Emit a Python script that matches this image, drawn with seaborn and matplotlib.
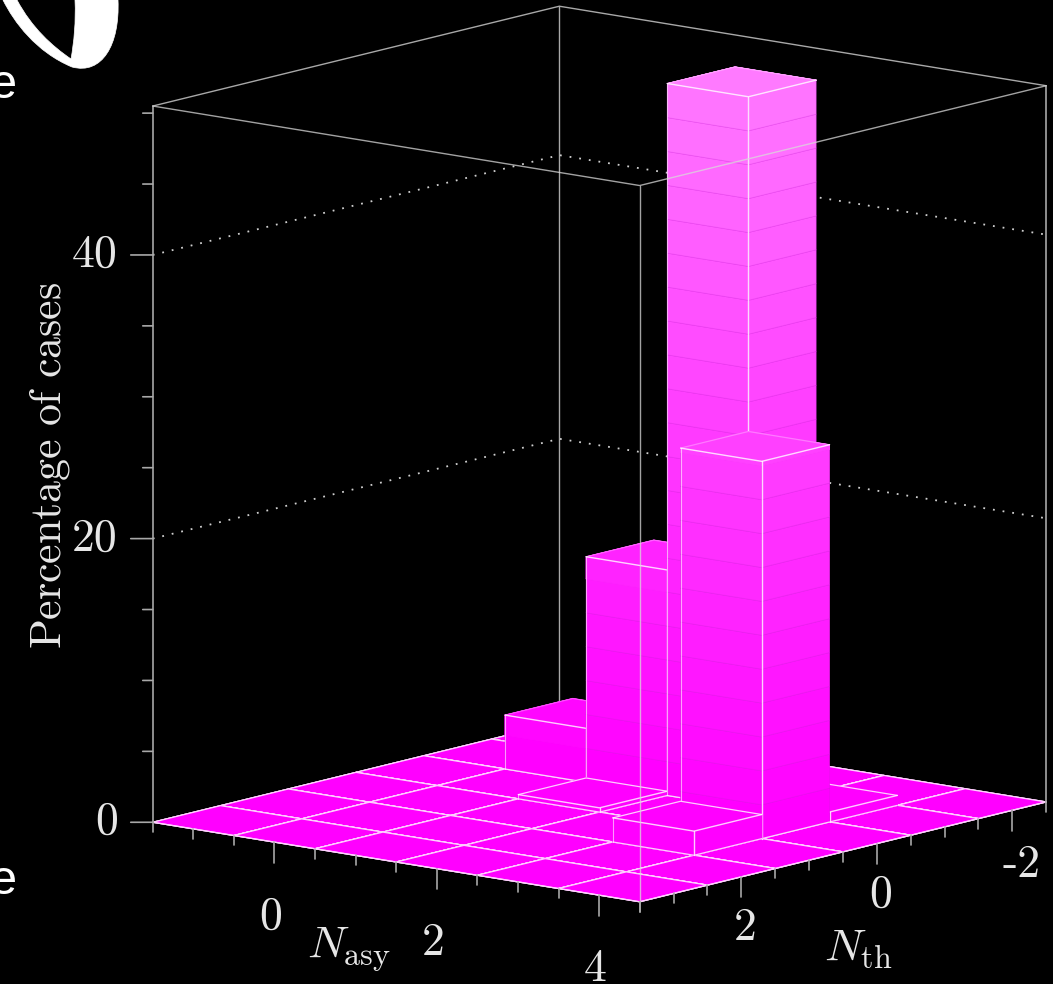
import numpy as np
import matplotlib
matplotlib.use("Agg")
import matplotlib.pyplot as plt
from matplotlib.patches import PathPatch
from matplotlib.path import Path
import seaborn as sns

# Share of cases per (N_asy, N_th) cell
nasy_values = [-1, 0, 1, 2, 3, 4]
nth_values = [-2, -1, 0, 1, 2, 3]
pct_nth_m2 = [0, 0, 0, 0, 0, 0]
pct_nth_m1 = [0, 3.8, 15.9, 50.2, 0.7, 0]
pct_nth_0 = [0, 0, 0.3, 0, 26.6, 0]
pct_nth_1 = [0, 0, 0, 0, 1.7, 0]
pct_nth_2 = [0, 0, 0, 0, 0, 0]
pct_nth_3 = [0, 0, 0, 0, 0, 0]
pct_rows = [pct_nth_m2, pct_nth_m1, pct_nth_0, pct_nth_1, pct_nth_2, pct_nth_3]

z_major = [0, 20, 40]
z_minor = [5, 10, 15, 25, 30, 35, 45, 50]
nasy_major = [0, 2, 4]
nth_major = [-2, 0, 2]
level_step = 2.39

sns.set_theme(style="dark", rc={
    "figure.facecolor": "black", "axes.facecolor": "black",
    "savefig.facecolor": "black", "text.color": "#e6e6e6",
    "mathtext.fontset": "cm", "axes.unicode_minus": False,
})

fig = plt.figure(figsize=(10.53, 9.84), dpi=100)
side = 1125
ax = fig.add_axes([21.8 / 1053, -47.7 / 984, side / 1053, side / 984],
                  projection="3d", proj_type="ortho")
ax.computed_zorder = False
ax.view_init(elev=11.55, azim=-50.8)
ax.set_xlim(-1.5, 4.5, view_margin=0)
ax.set_ylim(3.5, -2.5, view_margin=0)
ax.set_zlim(0, 50.5, view_margin=0)
ax.set_box_aspect((630, 645, 733), zoom=1)
ax.set_axis_off()

x0, x1 = -1.5, 4.5
y0, y1 = 3.5, -2.5
z1 = 50.5
box_col = "#a8a8a8"

# back of the box and dotted grid
ax.plot([x0, x0], [y1, y1], [0, z1], color=box_col, lw=1, zorder=1)
ax.plot([x0, x0, x1], [y0, y1, y1], [z1, z1, z1], color=box_col, lw=1, zorder=1)
for z in [20, 40]:
    ax.plot([x0, x0, x1], [y0, y1, y1], [z, z, z], color="#d0d0d0", lw=1.3,
            ls=(0, (1, 4.4)), zorder=1)

# floor
zo = 2
for ny in nth_values:
    for nx in nasy_values:
        ax.bar3d(nx - 0.5, ny - 0.5, 0, 1, 1, 0, color="#ff00ff", shade=False,
                 edgecolor="#ffd0ff", linewidth=0.9, zorder=zo)

palette = sns.blend_palette(["#ff00ff", "#ff80ff"], n_colors=23)


def level_color(z):
    return palette[min(int(z / level_step), len(palette) - 1)]


# bars, back to front
edge = (1, 1, 1, 0.8)
zo = 3
for i, nx in enumerate(nasy_values):
    for j, ny in enumerate(nth_values):
        h = pct_rows[j][i]
        if h <= 0:
            continue
        xl, xr = nx - 0.5, nx + 0.5
        yf, yb = ny + 0.5, ny - 0.5
        levels = list(np.arange(0, h, level_step)) + [h]
        for lo, hi in zip(levels[:-1], levels[1:]):
            if hi - lo < 1e-6:
                continue
            c = level_color(lo)
            ax.bar3d(xl, yb, lo, 1, 1, hi - lo, color=c, shade=False,
                     edgecolor=(0.80, 0.15, 0.85, 0.22) if hi < h else c,
                     linewidth=0.6, zorder=zo)
            zo += 1
        top = level_color(h)
        ax.bar3d(xl, yb, h, 1, 1, 0, color=top, shade=False, edgecolor=top,
                 linewidth=0.3, zorder=zo)
        zo += 1
        # visible outline, the far top edges only show on the low bars
        back_a = 0.8 if h < 2 else 0.3
        ax.plot([xl, xl, xr], [yf, yb, yb], [h, h, h], color=(1, 1, 1, back_a), lw=0.9, zorder=zo)
        ax.plot([xr, xr], [yf, yf], [0, h], color=edge, lw=1, zorder=zo)
        ax.plot([xl, xr, xr], [yf, yf, yb], [h, h, h], color=edge, lw=1, zorder=zo)
        ax.plot([xl, xl], [yf, yf], [0, h], color=(1, 1, 1, 0.6), lw=0.8, zorder=zo)
        ax.plot([xl, xr, xr], [yf, yf, yb], [0, 0, 0], color=edge, lw=0.9, zorder=zo)
        zo += 1

# front of the box, over the bars
top_z = zo + 1
front = (0.85, 0.85, 0.85, 0.75)
ax.plot([x0, x0], [y0, y0], [0, z1], color=box_col, lw=1.2, zorder=top_z)
ax.plot([x1, x1], [y0, y0], [0, z1], color=front, lw=1, zorder=top_z)
ax.plot([x1, x1], [y1, y1], [0, z1], color=box_col, lw=1.2, zorder=top_z)
ax.plot([x0, x1, x1], [y0, y0, y1], [z1, z1, z1], color=front, lw=1, zorder=top_z)

# z ticks point straight left on screen
left_dx, left_dy = -1 / 135.5, 0.8036 / 135.5
for z in z_major + z_minor:
    n = 22 if z in z_major else 10
    ax.plot([x0, x0 + n * left_dx], [y0, y0 + n * left_dy], [z, z],
            color=box_col, lw=1.2, zorder=top_z)
for z in z_major:
    ax.text(x0 + 35 * left_dx, y0 + 35 * left_dy, z, str(z), ha="right", va="center",
            fontsize=33, family="cmr10", zorder=top_z)

# ticks on the two floor edges
for t in np.arange(-1.5, 4.51, 0.5):
    n = 1.45 if t in nasy_major else 0.7
    ax.plot([t, t], [y0, y0], [0, -n], color=box_col, lw=1.2, zorder=top_z)
for t in np.arange(-2.5, 3.51, 0.5):
    n = 1.45 if t in nth_major else 0.7
    ax.plot([x1, x1], [t, t], [0, -n], color=box_col, lw=1.2, zorder=top_z)
for t in nasy_major:
    ax.text(t - 0.05, y0, -5.3, str(t), ha="center", va="center", fontsize=33,
            family="cmr10", zorder=top_z)
for t in nth_major:
    # the -2 sits a little further out than the other two
    dy, dz = (-0.13, -4.0) if t < 0 else (-0.05, -3.65)
    ax.text(x1, t + dy, dz, str(t), ha="center", va="center", fontsize=33,
            family="cmr10", zorder=top_z)

ax.text(0.92, y0, -6.7, r"$N_{\mathrm{asy}}$", ha="center", va="center",
        fontsize=33, zorder=top_z)
ax.text(x1, 0.27, -7.1, r"$N_{\mathrm{th}}$", ha="center", va="center",
        fontsize=33, zorder=top_z)
fig.text(50 / 1053, 1 - 465 / 984, r"$\mathrm{Percentage\ of\ cases}$", rotation=90,
         ha="center", va="center", fontsize=31.6)

# slide bits behind the figure at the left edge
for y in [85, 882]:
    fig.text(17 / 1053, 1 - y / 984, "e", ha="right", va="center", color="white",
             fontsize=35, family="Liberation Sans")
blob = [(3, 0), (14, 22), (36, 52), (72, 67), (102, 75), (120, 45), (118, 0), (75, 0),
        (76, 22), (74, 42), (71, 59), (52, 46), (32, 28), (17, 0), (3, 0)]
codes = [Path.MOVETO] + [Path.CURVE4] * 6 + [Path.LINETO] + [Path.CURVE4] * 6 + [Path.CLOSEPOLY]
px = [(x / 1053, 1 - y / 984) for x, y in blob]
fig.add_artist(PathPatch(Path(px, codes), facecolor="white", edgecolor="white", lw=0.5,
                         transform=fig.transFigure))

fig.savefig("out.png", dpi=100)
